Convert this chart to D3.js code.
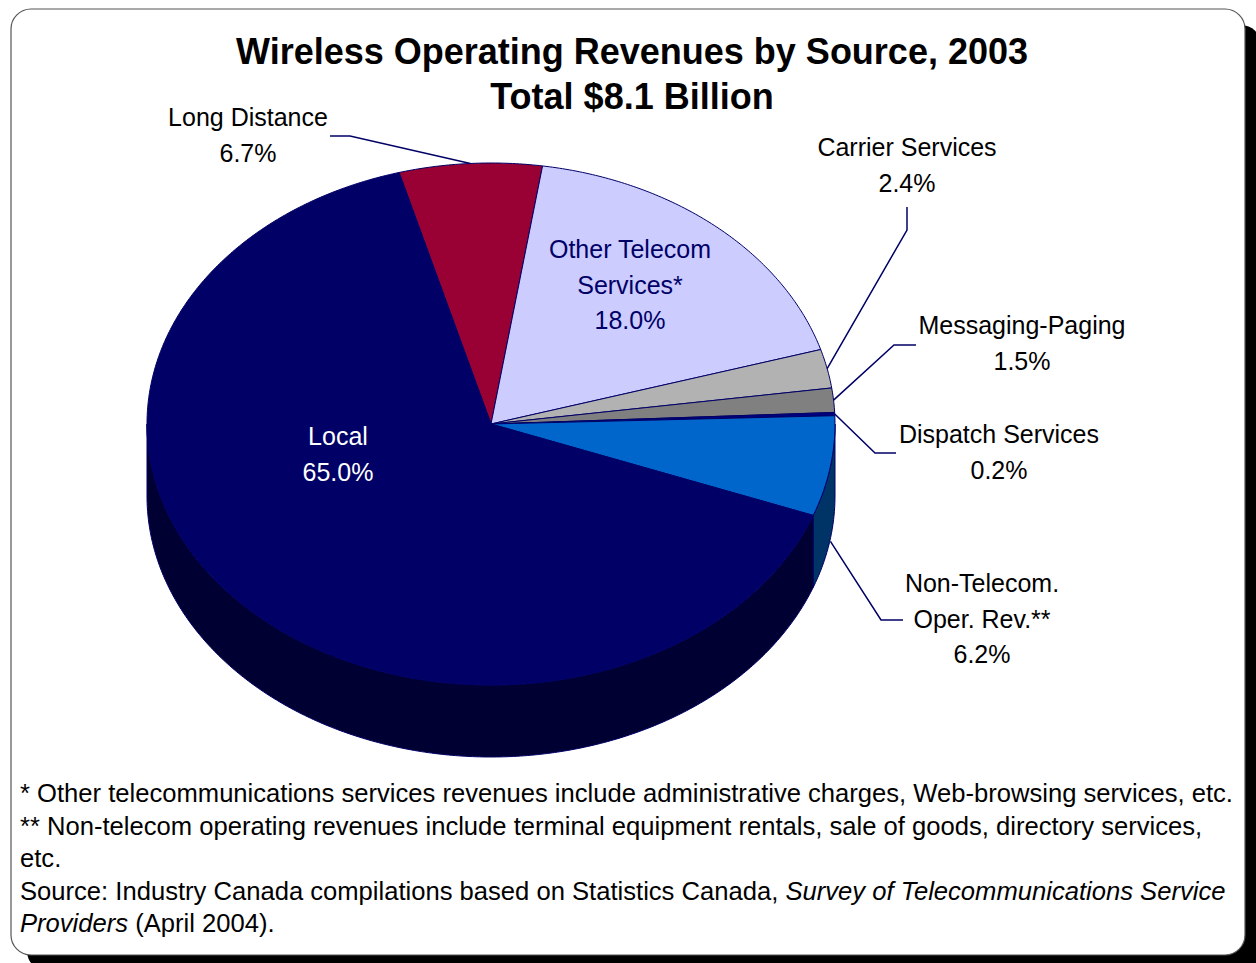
<!DOCTYPE html>
<html>
<head>
<meta charset="utf-8">
<script src="https://cdn.jsdelivr.net/npm/d3@7"></script>
<style>
  html, body { margin: 0; padding: 0; background: #fff; }
  svg { display: block; }
  text { font-family: "Liberation Sans", Arial, sans-serif; }
</style>
</head>
<body>
<svg id="chart" width="1256" height="963"></svg>
<script>
// Revenue shares by source (percent of total), clockwise from Long Distance
const categories = ["Long Distance", "Other Telecom Services*", "Carrier Services",
  "Messaging-Paging", "Dispatch Services", "Non-Telecom. Oper. Rev.**", "Local"];
const shares = [6.7, 18.0, 2.4, 1.5, 0.2, 6.2, 65.0];
const topColors = ["#990033", "#CCCCFF", "#B2B2B2", "#808080", "#000080", "#0066CC", "#000066"];
const sideColors = ["#4d001a", "#666680", "#595959", "#404040", "#000040", "#003366", "#000033"];

const titleLines = ["Wireless Operating Revenues by Source, 2003", "Total $8.1 Billion"];
const footnotes = [
  [{t: "* Other telecommunications services revenues include administrative charges, Web-browsing services, etc."}],
  [{t: "** Non-telecom operating revenues include terminal equipment rentals, sale of goods, directory services,"}],
  [{t: "etc."}],
  [{t: "Source: Industry Canada compilations based on Statistics Canada, "}, {t: "Survey of Telecommunications Service", i: true}],
  [{t: "Providers", i: true}, {t: " (April 2004)."}]
];

const svg = d3.select("#chart");

// Card frame with drop shadow
const frame = {x: 11, y: 9, w: 1234, h: 946, r: 20};
svg.append("rect").attr("x", frame.x + 16).attr("y", frame.y + 16)
  .attr("width", frame.w).attr("height", frame.h).attr("rx", frame.r).attr("fill", "#000");
svg.append("rect").attr("x", frame.x).attr("y", frame.y)
  .attr("width", frame.w).attr("height", frame.h).attr("rx", frame.r)
  .attr("fill", "#fff").attr("stroke", "#555").attr("stroke-width", 1.2);

// Title
svg.selectAll("text.title").data(titleLines).join("text")
  .attr("class", "title")
  .attr("x", 632).attr("y", (d, i) => 64 + i * 45)
  .attr("text-anchor", "middle")
  .attr("font-size", 36).attr("font-weight", "bold").attr("fill", "#000")
  .text(d => d);

// 3D pie geometry: ellipse projected top face plus a front side wall
const cx = 491, cy = 424, rx = 344, ry = 261, depth = 72;
const startDeg = -15.5;
const pie = d3.pie().sort(null).value(d => d)
  .startAngle(startDeg * Math.PI / 180).endAngle((startDeg + 360) * Math.PI / 180);
const arcs = pie(shares);

const px = a => cx + rx * Math.sin(a);
const py = a => cy - ry * Math.cos(a);

function rimPoints(a0, a1) {
  const n = Math.max(2, Math.ceil(Math.abs(a1 - a0) / 0.01));
  return d3.range(n + 1).map(i => {
    const a = a0 + (a1 - a0) * i / n;
    return [px(a), py(a)];
  });
}

const line = d3.line();
const stroke = "#000066";

// Side walls: only the front half (angles between PI/2 and 3PI/2) is visible
const gSide = svg.append("g");
arcs.forEach((d, i) => {
  const segs = [];
  for (let k = -1; k <= 1; k++) {
    const lo = Math.PI / 2 + k * 2 * Math.PI, hi = 3 * Math.PI / 2 + k * 2 * Math.PI;
    const a0 = Math.max(d.startAngle, lo), a1 = Math.min(d.endAngle, hi);
    if (a1 > a0) segs.push([a0, a1]);
  }
  segs.forEach(([a0, a1]) => {
    const top = rimPoints(a0, a1);
    const bot = top.slice().reverse().map(p => [p[0], p[1] + depth]);
    gSide.append("path")
      .attr("d", line(top.concat(bot)) + "Z")
      .attr("fill", sideColors[i]).attr("stroke", stroke).attr("stroke-width", 1)
      .attr("stroke-linejoin", "round");
  });
});

// Top faces
const gTop = svg.append("g");
arcs.forEach((d, i) => {
  const pts = [[cx, cy]].concat(rimPoints(d.startAngle, d.endAngle));
  gTop.append("path")
    .attr("d", line(pts) + "Z")
    .attr("fill", topColors[i]).attr("stroke", stroke).attr("stroke-width", 1)
    .attr("stroke-linejoin", "round");
});

// Labels and leader lines (drop = how far down the wall the leader ends)
const labelFont = 25;
const lbl = [
  {i: 0, lines: ["Long Distance", "6.7%"], x: 248, y: 117, col: "#000",
   lead: [[330, 136], [350, 136]], drop: 0},
  {i: 1, lines: ["Other Telecom", "Services*", "18.0%"], x: 630, y: 249, col: "#000066"},
  {i: 2, lines: ["Carrier Services", "2.4%"], x: 907, y: 147, col: "#000",
   lead: [[907, 207], [907, 230]], drop: 0},
  {i: 3, lines: ["Messaging-Paging", "1.5%"], x: 1022, y: 325, col: "#000",
   lead: [[916, 345], [894, 345]], drop: 0},
  {i: 4, lines: ["Dispatch Services", "0.2%"], x: 999, y: 434, col: "#000",
   lead: [[896, 453], [875, 453]], drop: 0},
  {i: 5, lines: ["Non-Telecom.", "Oper. Rev.**", "6.2%"], x: 982, y: 583, col: "#000",
   lead: [[903, 620], [881, 620]], drop: depth + 3},
  {i: 6, lines: ["Local", "65.0%"], x: 338, y: 436, col: "#fff"}
];
const lineStep = 35.5;

const gLab = svg.append("g");
lbl.forEach(L => {
  if (L.lead) {
    const d = arcs[L.i];
    const mid = (d.startAngle + d.endAngle) / 2;
    const pts = L.lead.concat([[px(mid), py(mid) + L.drop]]);
    gLab.append("path").attr("d", line(pts)).attr("fill", "none")
      .attr("stroke", stroke).attr("stroke-width", 1.5);
  }
  L.lines.forEach((s, k) => {
    gLab.append("text")
      .attr("x", L.x).attr("y", L.y + k * lineStep + labelFont * 0.36)
      .attr("text-anchor", "middle").attr("font-size", labelFont)
      .attr("fill", L.col)
      .text(s);
  });
});

// Footnotes
const gFoot = svg.append("g");
footnotes.forEach((parts, k) => {
  const t = gFoot.append("text")
    .attr("x", 20).attr("y", 793 + k * 32.5 + 9)
    .attr("font-size", 25.6).attr("fill", "#000");
  parts.forEach(p => {
    t.append("tspan").attr("font-style", p.i ? "italic" : "normal").text(p.t);
  });
});
</script>
</body>
</html>
